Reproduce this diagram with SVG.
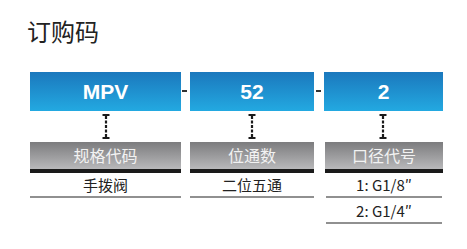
<svg xmlns="http://www.w3.org/2000/svg" width="467" height="249" viewBox="0 0 467 249">
<defs>
<linearGradient id="blue" x1="0" y1="0" x2="0" y2="1">
<stop offset="0" stop-color="#1b78bd"/>
<stop offset="1" stop-color="#23a9e1"/>
</linearGradient>
<linearGradient id="gray" x1="0" y1="0" x2="0" y2="1">
<stop offset="0" stop-color="#7c7c7e"/>
<stop offset="1" stop-color="#b8b8ba"/>
</linearGradient>
<g id="ibeam">
<line x1="-3.5" y1="0" x2="3.5" y2="0" stroke="#1a1a1a" stroke-width="2"/>
<line x1="-3.5" y1="23" x2="3.5" y2="23" stroke="#1a1a1a" stroke-width="2"/>
<line x1="0" y1="1" x2="0" y2="22" stroke="#1a1a1a" stroke-width="2.2" stroke-dasharray="3,1.5"/>
</g>
</defs>
<style>
.title{font-family:"Noto Sans CJK SC","Noto Sans",sans-serif;font-size:24px;fill:#222}
.code{font-family:"Liberation Sans",Arial,sans-serif;font-weight:bold;font-size:21px;fill:#fff;text-anchor:middle}
.hdr{font-family:"Noto Sans CJK SC",sans-serif;font-size:16px;fill:#f2f2f2;text-anchor:middle}
.val{font-family:"Noto Sans CJK SC","Noto Sans",sans-serif;font-size:15px;fill:#222;text-anchor:middle}
.dash{fill:#333}
.rule{stroke:#222;stroke-width:1.2}
</style>
<text class="title" x="27" y="41">订购码</text>
<g id="node-mpv">
<rect x="30" y="72" width="151" height="39" fill="url(#blue)"/>
<text class="code" x="105.5" y="99">MPV</text>
</g>
<g id="node-52">
<rect x="190" y="72" width="124" height="39" fill="url(#blue)"/>
<text class="code" x="252" y="99">52</text>
</g>
<g id="node-2">
<rect x="324" y="72" width="119" height="39" fill="url(#blue)"/>
<text class="code" x="383.5" y="99">2</text>
</g>
<g id="separators">
<rect x="182" y="90" width="5" height="2" class="dash"/>
<rect x="316" y="90" width="5" height="2" class="dash"/>
</g>
<g id="connectors">
<use href="#ibeam" x="106" y="115"/>
<use href="#ibeam" x="252" y="115"/>
<use href="#ibeam" x="383" y="115"/>
</g>
<g id="col-spec">
<rect x="30" y="142" width="151" height="27" fill="url(#gray)"/>
<rect x="30" y="169" width="151" height="4" fill="#1a1a1a"/>
<text class="hdr" x="105.5" y="162">规格代码</text>
<text class="val" x="105.5" y="190.5">手拨阀</text>
<line class="rule" x1="30" y1="197" x2="181" y2="197"/>
</g>
<g id="col-pos">
<rect x="190" y="142" width="124" height="27" fill="url(#gray)"/>
<rect x="190" y="169" width="124" height="4" fill="#1a1a1a"/>
<text class="hdr" x="252" y="162">位通数</text>
<text class="val" x="252" y="190.5">二位五通</text>
<line class="rule" x1="190" y1="197" x2="314" y2="197"/>
</g>
<g id="col-port">
<rect x="325" y="142" width="118" height="27" fill="url(#gray)"/>
<rect x="325" y="169" width="118" height="4" fill="#1a1a1a"/>
<text class="hdr" x="384" y="162">口径代号</text>
<text class="val" x="384" y="190.5">1: G1/8″</text>
<line class="rule" x1="326" y1="197" x2="442" y2="197"/>
<text class="val" x="384" y="216.5">2: G1/4″</text>
<line class="rule" x1="326" y1="223" x2="442" y2="223"/>
</g>
</svg>
